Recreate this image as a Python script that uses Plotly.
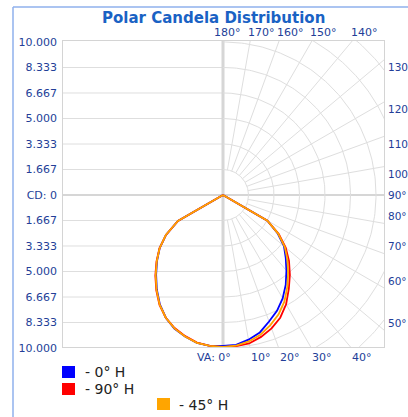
import numpy as np
import plotly.graph_objects as go

# ---------------- data ----------------
VA = [0, 5, 10, 15, 20, 25, 30, 35, 40, 45, 50, 55, 60, 65, 70, 75, 80, 85, 90]
cd_0H   = [9870, 9830, 9600, 9300, 8800, 8350, 7800, 7150, 6450, 5800, 5200, 4350, 3350, 0, 0, 0, 0, 0, 0]
cd_180H = [9870, 9900, 9820, 9580, 9300, 8850, 8250, 7540, 6800, 6100, 5400, 4550, 3400, 0, 0, 0, 0, 0, 0]
cd_90H  = [9950, 9920, 9850, 9600, 9280, 8850, 8250, 7500, 6800, 6100, 5350, 4450, 3350, 0, 0, 0, 0, 0, 0]
cd_270H = [9950, 9900, 9800, 9550, 9250, 8850, 8300, 7600, 6880, 6150, 5420, 4550, 3400, 0, 0, 0, 0, 0, 0]
cd_45H  = [9920, 9880, 9720, 9450, 9050, 8600, 8030, 7330, 6620, 5950, 5270, 4400, 3350, 0, 0, 0, 0, 0, 0]
cd_225H = [9920, 9900, 9810, 9570, 9280, 8850, 8280, 7570, 6840, 6120, 5410, 4560, 3400, 0, 0, 0, 0, 0, 0]

series_names = ["- 0° H", "- 90° H", "- 45° H"]
series_colors = ["#0000ff", "#ff0000", "#ffa500"]

cd_tick_values = [0, 1667, 3333, 5000, 6667, 8333, 10000]
cd_tick_labels = ["CD: 0", "1.667", "3.333", "5.000", "6.667", "8.333", "10.000"]

right_angles = [50, 60, 70, 80, 90, 100, 110, 120, 130]
right_labels = ["50°", "60°", "70°", "80°", "90°", "100", "110", "120", "130"]
top_angles = [180, 170, 160, 150, 140]
bottom_angles = [0, 10, 20, 30, 40]

grid_step = 1667
ray_step = 10

# ---------------- geometry ----------------
W, H = 408, 417
ML, MR, MT, MB = 62, 23, 40, 69
PW, PH = W - ML - MR, H - MT - MB
scale = 153 / 10000.0  # px per cd
XMIN = -(223 - ML) / scale
XMAX = (W - MR - 223) / scale
YMIN = -(H - MB - 195) / scale
YMAX = (195 - MT) / scale

def px(x):
    return (x - ML) / PW

def py(y):
    return 1 - (y - MT) / PH

def to_xy(va_list, r_list, side):
    a = np.radians(np.array(va_list, dtype=float))
    r = np.array(r_list, dtype=float)
    return side * r * np.sin(a), -r * np.cos(a)

fig = go.Figure()

GRID = "#dedede"
gx, gy = [], []
t = np.radians(np.linspace(0, 180, 181))
for k in range(1, 10):
    R = k * grid_step
    gx += list(R * np.sin(t)) + [None]
    gy += list(-R * np.cos(t)) + [None]
for va in range(ray_step, 180, ray_step):
    if va == 90:
        continue
    a = np.radians(va)
    gx += [grid_step * np.sin(a), 30000 * np.sin(a), None]
    gy += [-grid_step * np.cos(a), -30000 * np.cos(a), None]
fig.add_trace(go.Scatter(x=gx, y=gy, mode="lines", line=dict(color=GRID, width=1),
                         hoverinfo="skip", showlegend=False))

shapes = []
for v in cd_tick_values[1:-1]:
    for sgn in (1, -1):
        shapes.append(dict(type="line", xref="x", yref="y", x0=XMIN, x1=0, y0=sgn * v, y1=sgn * v,
                           line=dict(color=GRID, width=1), layer="below"))
shapes.append(dict(type="line", xref="x", yref="y", x0=XMIN, x1=XMAX, y0=0, y1=0,
                   line=dict(color="#d6d6d6", width=2), layer="below"))
shapes.append(dict(type="line", xref="x", yref="y", x0=0, x1=0, y0=YMIN, y1=YMAX,
                   line=dict(color="#d6d6d6", width=3), layer="below"))
shapes.append(dict(type="rect", xref="x", yref="y", x0=XMIN, x1=XMAX, y0=YMIN, y1=YMAX,
                   line=dict(color="#d4d4d4", width=2)))
# outer blue border
shapes.append(dict(type="line", xref="paper", yref="paper", x0=px(13), x1=px(W + 5), y0=py(7), y1=py(7),
                   line=dict(color="#8fb0ec", width=1.5)))
shapes.append(dict(type="line", xref="paper", yref="paper", x0=px(13), x1=px(13), y0=py(H + 5), y1=py(7),
                   line=dict(color="#8fb0ec", width=1.5)))

pairs = [(cd_0H, cd_180H), (cd_90H, cd_270H), (cd_45H, cd_225H)]
for (right, left), name, col in zip(pairs, series_names, series_colors):
    lx, ly = to_xy(VA[::-1], left[::-1], -1)
    rx, ry = to_xy(VA, right, 1)
    fig.add_trace(go.Scatter(x=list(lx) + list(rx), y=list(ly) + list(ry), mode="lines",
                             line=dict(color=col, width=1.8), name=name, showlegend=False,
                             hoverinfo="skip"))

LAB = "#233e98"
FONT = "DejaVu Sans"
ann = []
for va, txt in zip(right_angles, right_labels):
    a = np.radians(va)
    y = -XMAX * np.cos(a) / np.sin(a)
    anchor = "middle" if va == 90 else ("bottom" if va < 90 else "top")
    ann.append(dict(x=XMAX, y=y, xref="x", yref="y", text=txt, showarrow=False,
                    xanchor="left", yanchor=anchor, xshift=1, font=dict(family=FONT, size=10.5, color=LAB)))
for va in top_angles:
    a = np.radians(va)
    x = YMAX * np.sin(a) / (-np.cos(a))
    ann.append(dict(x=x, y=YMAX, xref="x", yref="y", text=f"{va}°", showarrow=False,
                    xanchor="center" if va == 180 else "left", yanchor="bottom", yshift=-1,
                    xshift=4 if va == 180 else -4, font=dict(family=FONT, size=11, color=LAB)))
for va in bottom_angles:
    a = np.radians(va)
    x = -YMIN * np.sin(a) / np.cos(a)
    txt = "VA: 0°" if va == 0 else f"{va}°"
    ann.append(dict(x=x, y=YMIN, xref="x", yref="y", text=txt, showarrow=False,
                    xanchor="right" if va == 0 else "left", yanchor="top", yshift=-1,
                    xshift=10 if va == 0 else -1, font=dict(family=FONT, size=11, color=LAB)))
ann.append(dict(x=px(213.5), y=py(18), xref="paper", yref="paper", text="<b>Polar Candela Distribution</b>",
                showarrow=False, xanchor="center", yanchor="middle",
                font=dict(family=FONT, size=15, color="#1a62c4")))
leg_pos = [(62, 366, 83, 372), (62, 383, 83, 389), (157, 398, 177, 405)]
for (sx, sy, tx, ty), name, col in zip(leg_pos, series_names, series_colors):
    shapes.append(dict(type="rect", xref="paper", yref="paper", x0=px(sx), x1=px(sx + 13),
                       y0=py(sy), y1=py(sy + 12), line=dict(width=0), fillcolor=col))
    ann.append(dict(x=px(tx), y=py(ty), xref="paper", yref="paper", text=name, showarrow=False,
                    xanchor="left", yanchor="middle", font=dict(family=FONT, size=14, color="#222222")))

yt_vals = [-v for v in cd_tick_values[::-1]] + cd_tick_values[1:]
yt_text = cd_tick_labels[::-1] + cd_tick_labels[1:]

fig.update_layout(
    width=W, height=H, margin=dict(l=ML, r=MR, t=MT, b=MB),
    paper_bgcolor="white", plot_bgcolor="white",
    xaxis=dict(range=[XMIN, XMAX], showgrid=False, zeroline=False, showticklabels=False,
               ticks="", fixedrange=True),
    yaxis=dict(range=[YMIN, YMAX], showgrid=False, zeroline=False, tickvals=yt_vals, ticktext=yt_text,
               ticks="", ticklabelstandoff=4, fixedrange=True,
               tickfont=dict(family=FONT, size=11, color=LAB)),
    shapes=shapes, annotations=ann, showlegend=False,
)
fig.write_html("out.html", config={"displayModeBar": False},
               post_script="document.body.style.margin='0';document.body.style.overflow='hidden';")
